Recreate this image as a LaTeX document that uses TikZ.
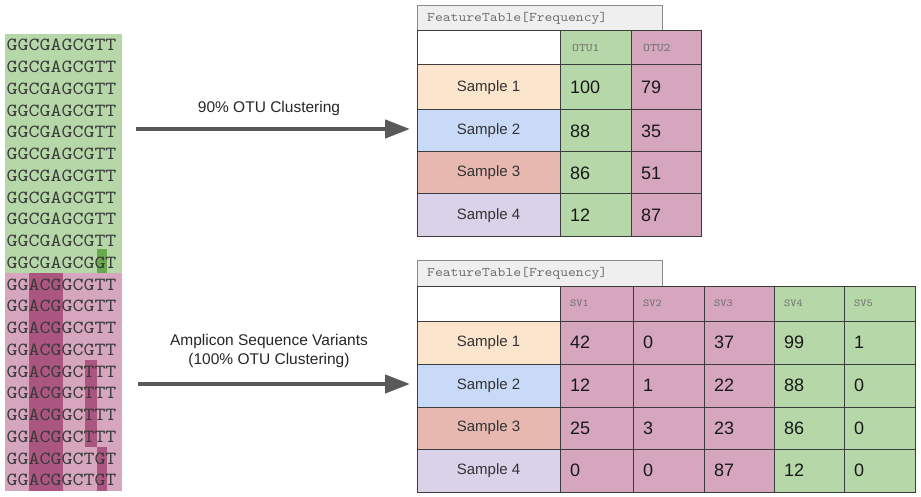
\documentclass[tikz,border=0pt]{standalone}
\usepackage{fontspec}
\setmainfont{Liberation Sans}
\newfontfamily\seqfont{lmmono10-regular.otf}[FakeStretch=1.13]
\usetikzlibrary{arrows.meta}
\definecolor{gfill}{HTML}{B6D7A8}
\definecolor{pfill}{HTML}{D5A6BD}
\definecolor{gdark}{HTML}{6AA84F}
\definecolor{pdark}{HTML}{A64D79}
\definecolor{sA}{HTML}{FCE5CD}
\definecolor{sB}{HTML}{C9DAF8}
\definecolor{sC}{HTML}{E6B8AF}
\definecolor{sD}{HTML}{D9D2E9}
\definecolor{tabfill}{HTML}{EFEFEF}
\definecolor{gridc}{HTML}{3C3C3C}
\definecolor{arrowc}{HTML}{595959}
\definecolor{seqc}{HTML}{3A3A3A}
\definecolor{hdrc}{HTML}{6E6E6E}
\newcommand\tcell[6]{%
  \pgfmathsetmacro\cw{#4-#2}\pgfmathsetmacro\ch{#5-#3}%
  \node[cellb, fill=#6, minimum width=\cw pt, minimum height=\ch pt, anchor=north west] (#1) at (#2,#3) {};}
\begin{document}
\begin{tikzpicture}[x=1pt,y=-1pt,
  cellb/.style={draw=gridc, line width=1pt, inner sep=0pt, outer sep=0pt},
  tabbox/.style={draw=hdrc!80, line width=1pt, fill=tabfill, inner sep=0pt, outer sep=0pt, anchor=north west},
  seq/.style={font=\seqfont\fontsize{18.5}{20}\selectfont, text=seqc, inner sep=0pt, anchor=west},
  tabtxt/.style={font=\seqfont\fontsize{13.2}{15}\selectfont, text=hdrc, inner sep=0pt, anchor=west, xshift=10pt},
  hdr/.style={font=\seqfont\fontsize{11.5}{13}\selectfont, text=hdrc, inner sep=0pt, anchor=west, xshift=12pt},
  hdrs/.style={font=\seqfont\fontsize{10.5}{12}\selectfont, text=hdrc, inner sep=0pt, anchor=west, xshift=10pt},
  samp/.style={font=\fontsize{15}{18}\selectfont, text=black!80, inner sep=0pt},
  num/.style={font=\fontsize{18}{20}\selectfont, text=black!90, inner sep=0pt, anchor=west, xshift=10pt},
  lbl/.style={font=\fontsize{15.5}{19}\selectfont, text=black!85, align=center, inner sep=0pt},
  bigarrow/.style={draw=arrowc, line width=4.5pt, -{Triangle[length=25pt,width=18pt]}}
]
\useasboundingbox (0,0) rectangle (921,497);
% ---------- sequences ----------
\fill[gfill] (5,34) rectangle (122,273);
\fill[pfill] (5,273) rectangle (122,491);
\fill[gdark] (96.5,249) rectangle (107.3,273);
\fill[pdark!90!pfill] (29,273) rectangle (63,491);
\fill[pdark!90!pfill] (85,360) rectangle (96.7,447);
\fill[pdark!90!pfill] (96.7,447) rectangle (107.3,491);
\foreach \t [count=\i from 0] in {GGCGAGCGTT,GGCGAGCGTT,GGCGAGCGTT,GGCGAGCGTT,GGCGAGCGTT,GGCGAGCGTT,GGCGAGCGTT,GGCGAGCGTT,GGCGAGCGTT,GGCGAGCGTT,GGCGAGCGGT,GGACGGCGTT,GGACGGCGTT,GGACGGCGTT,GGACGGCGTT,GGACGGCTTT,GGACGGCTTT,GGACGGCTTT,GGACGGCTTT,GGACGGCTGT,GGACGGCTGT}
  \node[seq] (q\i) at (6.5,{34+21.75*\i+11.2}) {\t};
% ---------- arrows ----------
\coordinate (a1s) at (136,129);
\coordinate (a1e) at (410,129);
\coordinate (a2s) at (138,384);
\coordinate (a2e) at (410,384);
\draw[bigarrow] (a1s) -- (a1e);
\draw[bigarrow] (a2s) -- (a2e);
\node[lbl] (l1) at (269,108) {90\% OTU Clustering};
\node[lbl] (l2) at (269,351) {Amplicon Sequence Variants\\(100\% OTU Clustering)};
% ---------- top table ----------
\node[tabbox, minimum width=245pt, minimum height=25pt] (tabA) at (417,6) {};
\node[tabtxt] (tabAt) at (tabA.west) {FeatureTable[Frequency]};
\tcell{aH0}{417}{31}{560}{65}{white}
\tcell{aH1}{560}{31}{631}{65}{gfill}
\tcell{aH2}{631}{31}{701}{65}{pfill}
\node[hdr] (aHt1) at (aH1.west) {OTU1};
\node[hdr] (aHt2) at (aH2.west) {OTU2};
\foreach \r/\ya/\yb/\sc/\va/\vb in {1/65/110/sA/100/79, 2/110/152/sB/88/35, 3/152/194/sC/86/51, 4/194/237/sD/12/87}{
  \tcell{aL\r}{417}{\ya}{560}{\yb}{\sc}
  \node[samp] (aS\r) at (aL\r.center) {Sample \r};
  \tcell{aA\r}{560}{\ya}{631}{\yb}{gfill}
  \node[num] (aN\r) at (aA\r.west) {\va};
  \tcell{aB\r}{631}{\ya}{701}{\yb}{pfill}
  \node[num] (aM\r) at (aB\r.west) {\vb};
}
% ---------- bottom table ----------
\node[tabbox, minimum width=245pt, minimum height=26pt] (tabB) at (417,260) {};
\node[tabtxt] (tabBt) at (tabB.west) {FeatureTable[Frequency]};
\tcell{bH0}{417}{286}{560}{321}{white}
\foreach \c in {1,...,5}{
  \pgfmathsetmacro\xa{{417,560,633,704,774,844,915}[\c]}
  \pgfmathsetmacro\xb{{417,560,633,704,774,844,915}[\c+1]}
  \ifnum\c>3 \def\cf{gfill}\else\def\cf{pfill}\fi
  \tcell{bH\c}{\xa}{286}{\xb}{321}{\cf}
  \node[hdrs] (bHt\c) at (bH\c.west) {SV\c};
}
\foreach \r/\ya/\yb/\sc/\vals in {1/321/364/sA/{42,0,37,99,1}, 2/364/407/sB/{12,1,22,88,0}, 3/407/449/sC/{25,3,23,86,0}, 4/449/492/sD/{0,0,87,12,0}}{
  \tcell{bL\r}{417}{\ya}{560}{\yb}{\sc}
  \node[samp] (bS\r) at (bL\r.center) {Sample \r};
  \foreach \v [count=\c] in \vals {
    \pgfmathsetmacro\xa{{417,560,633,704,774,844,915}[\c]}
    \pgfmathsetmacro\xb{{417,560,633,704,774,844,915}[\c+1]}
    \ifnum\c>3 \def\cf{gfill}\else\def\cf{pfill}\fi
    \tcell{bC\r-\c}{\xa}{\ya}{\xb}{\yb}{\cf}
    \node[num] (bN\r-\c) at (bC\r-\c.west) {\v};
  }
}
\end{tikzpicture}
\end{document}
